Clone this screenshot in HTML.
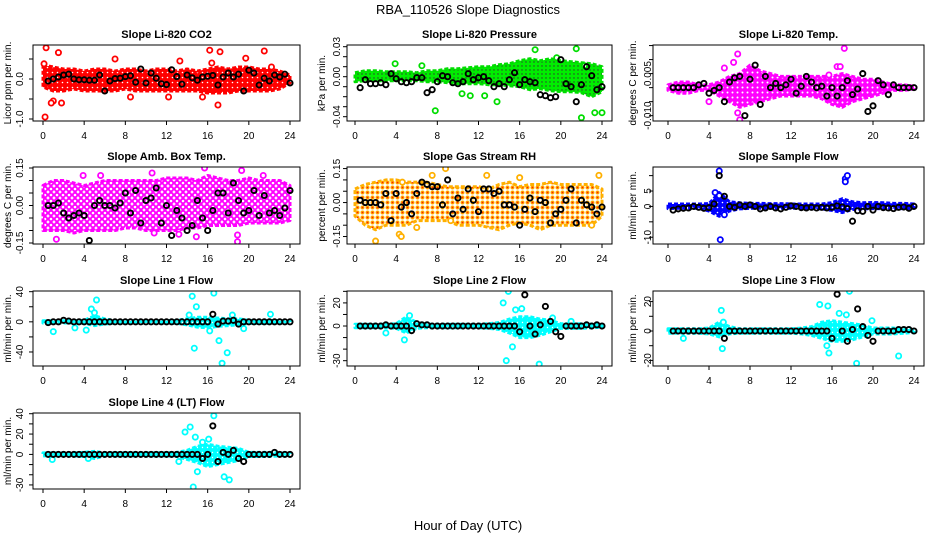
<!DOCTYPE html>
<html><head><meta charset="utf-8">
<style>
html,body{margin:0;padding:0;background:#fff;}
svg{display:block;font-family:"Liberation Sans",Arial,sans-serif;}
</style></head>
<body>
<svg id="chart" width="936" height="540" viewBox="0 0 936 540">
<defs>
<pattern id="pat-red" width="5" height="5" patternUnits="userSpaceOnUse"><rect width="5" height="5" fill="#ff0000"/><circle cx="2.5" cy="2.5" r="0.8" fill="#fff"/></pattern>
<pattern id="pat-green" width="4" height="4" patternUnits="userSpaceOnUse"><rect width="4" height="4" fill="#00ee00"/><circle cx="2" cy="2" r="0.7" fill="#333"/></pattern>
<pattern id="pat-magenta" width="5" height="5" patternUnits="userSpaceOnUse"><rect width="5" height="5" fill="#ff00ff"/><circle cx="2.5" cy="2.5" r="1" fill="#fff"/></pattern>
<pattern id="pat-magenta-sparse" width="6" height="6" patternUnits="userSpaceOnUse"><rect width="6" height="6" fill="#fff"/><circle cx="3" cy="3" r="2.2" fill="none" stroke="#ff00ff" stroke-width="1.8"/></pattern>
<pattern id="pat-orange" width="5" height="5" patternUnits="userSpaceOnUse"><rect width="5" height="5" fill="#fff"/><circle cx="2.5" cy="2.5" r="2" fill="#ffb000"/><circle cx="2.5" cy="2.5" r="0.9" fill="#ff2000"/></pattern>
<pattern id="pat-blue" width="5" height="5" patternUnits="userSpaceOnUse"><rect width="5" height="5" fill="#0000ff"/><circle cx="2.5" cy="2.5" r="0.8" fill="#fff"/></pattern>
<pattern id="pat-cyan" width="5" height="5" patternUnits="userSpaceOnUse"><rect width="5" height="5" fill="#00ffff"/><circle cx="2.5" cy="2.5" r="0.7" fill="#fff"/></pattern>
</defs>
<text x="468" y="14" text-anchor="middle" font-size="13">RBA_110526  Slope Diagnostics</text>
<text x="468" y="530" text-anchor="middle" font-size="13">Hour of Day (UTC)</text>
</svg>
<script>
// ---- data (hours 0..24 cloud envelope, outliers, half-hourly black points) ----
const xTicks = [0,4,8,12,16,20,24];
const xTickLabels = ["0","4","8","12","16","20","24"];

const co2Hi = [0.35,0.3,0.25,0.25,0.2,0.25,0.25,0.2,0.25,0.25,0.2,0.25,0.25,0.2,0.25,0.2,0.25,0.3,0.25,0.3,0.3,0.25,0.25,0.2,0.1];
const co2Lo = [-0.2,-0.3,-0.3,-0.25,-0.3,-0.3,-0.3,-0.3,-0.25,-0.3,-0.3,-0.3,-0.3,-0.3,-0.3,-0.3,-0.35,-0.35,-0.35,-0.3,-0.3,-0.3,-0.3,-0.25,-0.1];
const co2OutX = [0.2,0.3,1.5,0.1,1.0,0.8,1.8,7.0,8.5,12.2,13.3,15.5,16.2,17.0,17.2,19.7,21.5,22.2,16.4];
const co2OutY = [-0.95,0.78,0.66,0.38,-0.55,-0.6,-0.6,0.5,-0.45,-0.45,0.45,-0.45,0.72,-0.65,0.68,0.52,0.7,0.3,0.4];
const co2Black = [-0.05,0,0.05,0.1,0.12,0,-0.02,-0.02,-0.03,-0.03,0.1,-0.3,-0.05,0.01,0.02,0.06,0.08,-0.08,0.25,-0.1,0.15,0.02,-0.12,-0.14,0.23,0.06,-0.13,0.1,0.03,-0.03,0.05,0.07,0.09,-0.15,0.05,0.15,0.05,0.12,-0.3,0.22,0.15,-0.15,0.02,-0.05,0.1,0.05,0.12,-0.1];
const co2YTicks = [-1.0,-0.5,0.0,0.5];
const co2YLabels = ["-1.0","","0.0",""];

const presHi = [0.004,0.006,0.006,0.005,0.005,0.005,0.004,0.006,0.006,0.008,0.008,0.009,0.01,0.01,0.012,0.013,0.016,0.018,0.016,0.018,0.016,0.015,0.014,0.013,0.01];
const presLo = [-0.005,-0.004,-0.004,-0.004,-0.004,-0.004,-0.004,-0.005,-0.005,-0.006,-0.007,-0.007,-0.007,-0.008,-0.008,-0.009,-0.01,-0.013,-0.012,-0.014,-0.015,-0.015,-0.016,-0.02,-0.015];
const presOutX = [7.8,13.8,17.5,21.5,22.0,23.3,24,3.9,6.5,10.4,11.2,12.6,19.6,22.3];
const presOutY = [-0.034,-0.025,0.027,0.028,-0.041,-0.036,-0.036,0.013,0.011,-0.017,-0.019,-0.019,0.019,0.011];
const presBlack = [-0.011,-0.003,-0.007,-0.007,-0.006,-0.008,0.003,-0.002,-0.005,-0.006,-0.005,-0.001,-0.001,-0.016,-0.013,-0.005,0.001,0.0,-0.006,-0.007,-0.005,0.003,-0.003,-0.001,0.0,-0.004,-0.01,-0.007,-0.01,-0.003,0.004,-0.008,-0.003,-0.005,-0.006,-0.018,-0.019,-0.021,-0.02,0.017,-0.007,-0.01,-0.025,-0.008,0.01,0.001,-0.013,-0.01];
const presYTicks = [-0.04,-0.03,-0.02,-0.01,0.0,0.01,0.02,0.03];
const presYLabels = ["-0.04","","","","0.00","","","0.03"];

const ltHi = [0.001,0.002,0.002,0.001,0.001,0.002,0.004,0.005,0.008,0.006,0.005,0.004,0.004,0.004,0.004,0.004,0.004,0.005,0.004,0.003,0.003,0.002,0.001,0.001,0.0005];
const ltLo = [-0.001,-0.002,-0.002,-0.001,-0.001,-0.003,-0.005,-0.007,-0.006,-0.005,-0.004,-0.003,-0.003,-0.003,-0.003,-0.004,-0.006,-0.007,-0.005,-0.004,-0.003,-0.002,-0.001,-0.001,-0.0005];
const ltOutX = [6.8,6.4,5.5,7.0,6.8,17.2,16.5,16.8,15.7,4.0];
const ltOutY = [0.012,0.009,0.007,-0.0115,-0.009,0.014,0.0075,0.0075,0.0045,-0.005];
const ltBlack = [0,0,0,0,0,0.001,0.0015,-0.002,-0.001,0,-0.005,0.002,0.0035,0.004,-0.01,0.003,0.008,-0.006,0.004,0.0,0.0015,0,0.001,0.003,-0.002,0.0005,0.004,0.002,0,0.0005,-0.003,0,-0.003,0,0.0025,-0.0025,-0.0005,0.005,-0.0085,-0.0065,0.0025,0.001,-0.0025,0.001,0,0,0,0];
const ltYTicks = [-0.010,-0.005,0.0,0.005,0.010,0.015];
const ltYLabels = ["-0.010","","","0.005","",""];

const abHi = [0.08,0.1,0.1,0.09,0.08,0.09,0.1,0.1,0.1,0.1,0.1,0.1,0.11,0.11,0.11,0.1,0.12,0.11,0.1,0.1,0.11,0.1,0.1,0.1,0.08];
const abLo = [-0.1,-0.1,-0.1,-0.11,-0.1,-0.1,-0.1,-0.1,-0.09,-0.09,-0.1,-0.1,-0.1,-0.1,-0.09,-0.09,-0.08,-0.08,-0.08,-0.08,-0.07,-0.07,-0.07,-0.07,-0.06];
const abOutX = [1.3,3.9,5.6,10.6,15.7,19.3,21.4,18.9,18.9,14.9,10.8,13.2];
const abOutY = [-0.135,0.12,0.12,0.13,0.15,0.14,0.12,-0.145,-0.118,-0.125,-0.11,-0.115];
const abBlack = [0,0,0.01,-0.03,-0.05,-0.04,-0.03,-0.04,-0.14,0.0,0.02,0.0,0.0,-0.01,0.01,0.05,-0.03,0.06,-0.07,0.02,0.03,0.07,-0.07,0.0,-0.12,-0.02,-0.05,-0.1,-0.08,0.02,-0.05,-0.1,-0.02,0.05,0.05,-0.03,0.09,0.02,-0.03,-0.02,0.06,-0.04,0.04,-0.03,-0.02,-0.04,-0.01,0.06];
const abYTicks = [-0.15,-0.10,-0.05,0.0,0.05,0.10,0.15];
const abYLabels = ["-0.15","","","0.00","","","0.15"];

const rhHi = [0.06,0.08,0.09,0.1,0.1,0.09,0.09,0.09,0.08,0.07,0.07,0.07,0.07,0.06,0.08,0.09,0.07,0.08,0.08,0.09,0.08,0.08,0.08,0.08,0.06];
const rhLo = [-0.06,-0.1,-0.12,-0.1,-0.1,-0.1,-0.08,-0.08,-0.08,-0.08,-0.1,-0.1,-0.1,-0.11,-0.12,-0.1,-0.09,-0.1,-0.12,-0.1,-0.1,-0.1,-0.1,-0.1,-0.06];
const rhOutX = [2,4.3,4.5,6.0,7.5,8.8,9.3,12.8,16.0,23.7,23.0,4.6];
const rhOutY = [-0.17,-0.14,-0.15,-0.11,0.12,0.15,-0.08,0.12,0.11,0.12,-0.1,0.09];
const rhBlack = [0.01,0,0,0,-0.01,0.04,-0.08,0.04,-0.02,0.0,-0.05,0.04,0.09,0.08,0.07,0.07,-0.01,0.1,-0.05,0.02,-0.03,0.06,0.01,-0.04,0.06,0.06,0.04,0.05,-0.01,-0.01,-0.02,-0.1,-0.03,0.02,-0.04,0.01,0.0,-0.09,-0.05,-0.03,0.01,0.06,-0.09,0.01,-0.01,-0.02,-0.05,-0.02];
const rhYTicks = [-0.15,-0.10,-0.05,0.0,0.05,0.10,0.15];
const rhYLabels = ["-0.15","","","0.00","","","0.15"];

const sfHi = [0.8,0.8,0.8,0.8,0.9,4.5,1.5,1.2,1,1,0.9,0.9,0.8,0.8,0.8,0.8,1.2,2.5,1.5,1.2,1.3,1.2,1.0,1.0,0.8];
const sfLo = [-0.7,-0.6,-0.6,-0.6,-1.5,-3.2,-1.5,-0.8,-0.6,-0.6,-0.6,-0.6,-0.6,-0.6,-0.7,-0.8,-1.3,-2.0,-1.0,-0.8,-0.7,-0.7,-0.7,-0.7,-0.6];
const sfOutX = [5.0,5.1,17.3,17.5,17.3,4.6,5.0,5.5];
const sfOutY = [11.5,-10.8,9.0,10.0,8.0,4.5,3.5,-2.7];
const sfBlack = [-1.2,-0.8,-0.6,-0.5,0,-0.3,-0.6,-0.4,0.8,10.0,3.3,0.0,-0.3,0.5,0.0,0.5,0.0,-0.8,-0.5,0.0,-0.5,-0.8,-0.3,0.2,0.0,-0.4,-0.5,-0.3,-0.5,-0.3,-0.5,-0.3,0.2,-0.2,-0.7,-4.8,-1.4,-1.6,0.0,-1.2,0.0,-0.4,-0.5,-0.7,-0.3,-0.2,-0.6,0.0];
const sfYTicks = [-10,-5,0,5,10];
const sfYLabels = ["-10","","0","5",""];

const l1Hi = [1.5,1.5,1.5,1.5,2,8,4,1.5,1.5,1.5,1.5,1.5,1.5,2,4,6,6,5,4,4,2,2,2,1.5,1];
const l1Lo = [-1.5,-1.5,-1.5,-1.5,-2,-5,-3,-1.5,-1.5,-1.5,-1.5,-1.5,-1.5,-2,-4,-7,-8,-6,-5,-4,-2,-2,-2,-1.5,-1];
const l1OutX = [1.0,3.1,4.2,4.7,5.2,5.0,14.5,14.7,14.9,16.6,17.1,17.4,17.9,14.2,18.4,19.5,22.1,16.2];
const l1OutY = [-13,-8,-11,17,29,12,34,-35,20,38,-25,-55,-41,9,9,-9,10,-12];
const l1Black = [-1,0,0,2,1,0,0,0,0,0,0,0,0,0,0,0,0,0,0,0,0,0,0,0,0,0,0,0,0,0,0,0,10,-3,1,1,2,-3,0,0,0,0,0,0,0,0,0,0];
const l1YTicks = [-40,-20,0,20,40];
const l1YLabels = ["-40","","0","","40"];

const l2Hi = [1.5,1.5,1.5,1.5,2,8,3,1.5,1.5,1.5,1.5,1.5,1.5,2,3,6,8,8,6,5,2,2,2,1.5,1];
const l2Lo = [-1.5,-1.5,-1.5,-1.5,-2,-6,-2,-1.5,-1.5,-1.5,-1.5,-1.5,-1.5,-2,-3,-6,-10,-10,-8,-5,-2,-2,-2,-1.5,-1];
const l2OutX = [4.8,5.3,3.0,14.4,14.9,15.3,14.7,17.9,15.6,16.2,19.2,21.0];
const l2OutY = [-12,9,-6,20,30,-18,-30,-33,14,15,7,4];
const l2Black = [0,0,0,0,0,1,0,0,0,0,-4,2,1,1,0,0,0,0,0,0,0,0,0,0,0,0,0,0,0,0,0,-5,27,0,-7,1,17,4,-5,-9,0,0,0,0,1,0,1,0];
const l2YTicks = [-30,-20,-10,0,10,20,30];
const l2YLabels = ["-30","","","0","","20",""];

const l3Hi = [1.5,1.5,1.5,1.5,2,6,3,1.5,1.5,1.5,1.5,1.5,1.5,2,3,6,7,6,5,4,2,2,2,1.5,1];
const l3Lo = [-1.5,-1.5,-1.5,-1.5,-2,-4,-2,-1.5,-1.5,-1.5,-1.5,-1.5,-1.5,-2,-3,-5,-7,-7,-6,-4,-2,-2,-2,-1.5,-1];
const l3OutX = [1.5,5.2,5.3,5.4,14.8,15.6,15.5,15.7,17.7,17.4,16.7,18.4,19.9,22.5];
const l3OutY = [-5,14,-12,6,18,17,-10,-15,27,11,12,-22,7,-17];
const l3Black = [0,0,0,0,0,0,0,0,0,0,-5,0,0,0,0,0,0,0,0,0,0,0,0,0,0,0,0,0,0,0,0,-5,25,0,-7,1,15,3,-3,-7,0,0,0,0,1,1,1,0];
const l3YTicks = [-20,-10,0,10,20];
const l3YLabels = ["-20","","0","","20"];

const l4Hi = [1.5,1.5,1.5,1.5,2,3,1.5,1.5,1.5,1.5,1.5,1.5,1.5,2,4,8,10,8,7,6,2,2,2,1.5,1];
const l4Lo = [-1.5,-1.5,-1.5,-1.5,-2,-4,-1.5,-1.5,-1.5,-1.5,-1.5,-1.5,-1.5,-2,-5,-8,-12,-10,-8,-6,-2,-2,-2,-1.5,-1];
const l4OutX = [0.9,4.4,13.8,14.3,14.8,14.6,15.0,16.6,17.6,18.1,15.5,16.1,13.2];
const l4OutY = [-5,-4,22,27,17,-32,-17,38,-22,-25,12,15,-7];
const l4Black = [0,0,0,0,0,0,0,0,0,0,0,0,0,0,0,0,0,0,0,0,0,0,0,0,0,0,0,0,0,0,-4,0,28,-7,2,0,4,-4,-7,0,0,0,0,0,2,0,0,0];
const l4YTicks = [-30,-20,-10,0,10,20,30,40];
const l4YLabels = ["-30","","","0","","20","","40"];

// ---- layout ----
const NS = "http://www.w3.org/2000/svg";
const svg = document.getElementById("chart");
const cols = [{bl:33,br:300,x0:43,x1:290,ty:20,tl:8},{bl:347,br:612,x0:355,x1:602,ty:337,tl:322},{bl:653,br:924,x0:668,x1:914,ty:648,tl:633}];
const rows = [{t:45,b:121},{t:167,b:244},{t:291,b:366},{t:413,b:489}];

function mk(tag, attrs, parent){
  const e = document.createElementNS(NS, tag);
  for (const k in attrs) e.setAttribute(k, attrs[k]);
  (parent||svg).appendChild(e);
  return e;
}

function panel(slug, title, ytitle, col, row, ymin, ymax, pat, color, hi, lo, ox, oy, black, yt, yl){
  const C = cols[col], R = rows[row];
  const g = mk("g", {});
  
  
  const xs = h => C.x0 + (C.x1 - C.x0) * h / 24;
  const ys = v => R.b - (R.b - R.t) * (v - ymin) / (ymax - ymin);
  const clipId = "clip-" + slug;
  const cp = mk("clipPath", {id: clipId}, g);
  mk("rect", {x:C.bl, y:R.t, width:C.br-C.bl, height:R.b-R.t}, cp);
  const inner = mk("g", {"clip-path": "url(#" + clipId + ")"}, g);
  let pts = [];
  for (let i = 0; i < hi.length; i++) pts.push(xs(i) + "," + ys(hi[i]));
  for (let i = lo.length - 1; i >= 0; i--) pts.push(xs(i) + "," + ys(lo[i]));
  const band = mk("polygon", {points: pts.join(" "), fill: "url(#" + pat + ")", stroke: color, "stroke-width": 3, "stroke-linejoin": "round", "stroke-dasharray": "4 2"}, inner);
  
  
  for (let i = 0; i < ox.length; i++) {
    const c = mk("circle", {cx: xs(ox[i]), cy: ys(oy[i]), r: 2.6, fill: "#fff", stroke: color, "stroke-width": 1.8}, inner);
    
    
  }
  for (let i = 0; i < black.length; i++) {
    const c = mk("circle", {cx: xs(0.5 + i * 0.5), cy: ys(black[i]), r: 2.6, fill: "none", stroke: "#000", "stroke-width": 1.9}, inner);
    
    
  }
  const fr = mk("rect", {x:C.bl, y:R.t, width:C.br-C.bl, height:R.b-R.t, fill:"none", stroke:"#000", "stroke-width":1}, g);
  
  
  const t = mk("text", {x:(C.bl+C.br)/2, y:R.t-7, "text-anchor":"middle", "font-size":11, "font-weight":"bold"}, g);
  t.textContent = title;
  
  
  for (let i = 0; i < xTicks.length; i++) {
    const x = xs(xTicks[i]);
    mk("line", {x1:x, x2:x, y1:R.b, y2:R.b+4, stroke:"#000"}, g);
    const tl = mk("text", {x:x, y:R.b+18, "text-anchor":"middle", "font-size":10}, g);
    tl.textContent = xTickLabels[i];
    
    
  }
  for (let i = 0; i < yt.length; i++) {
    const y = ys(yt[i]);
    mk("line", {x1:C.bl-4, x2:C.bl, y1:y, y2:y, stroke:"#000"}, g);
    if (yl[i]) {
      const tl = mk("text", {x:0, y:0, "text-anchor":"middle", "font-size":10, transform:"translate(" + (C.ty+3) + "," + y + ") rotate(-90)"}, g);
      tl.textContent = yl[i];
      
      
    }
  }
  const yt2 = mk("text", {x:0, y:0, "text-anchor":"middle", "font-size":10, transform:"translate(" + (C.tl+3) + "," + ((R.t+R.b)/2) + ") rotate(-90)"}, g);
  yt2.textContent = ytitle;
  
  
}

panel("co2","Slope Li-820 CO2","Licor ppm per min.",0,0,-1.05,0.85,"pat-red","#ff0000",co2Hi,co2Lo,co2OutX,co2OutY,co2Black,co2YTicks,co2YLabels);
panel("pressure","Slope Li-820 Pressure","kPa per min.",1,0,-0.0443,0.0317,"pat-green","#00dd00",presHi,presLo,presOutX,presOutY,presBlack,presYTicks,presYLabels);
panel("li820-temp","Slope Li-820 Temp.","degrees C per min.",2,0,-0.0119,0.0152,"pat-magenta","#ff00ff",ltHi,ltLo,ltOutX,ltOutY,ltBlack,ltYTicks,ltYLabels);
panel("amb-box-temp","Slope Amb. Box Temp.","degrees C per min.",0,1,-0.154,0.154,"pat-magenta-sparse","#ff00ff",abHi,abLo,abOutX,abOutY,abBlack,abYTicks,abYLabels);
panel("gas-stream-rh","Slope Gas Stream RH","percent per min.",1,1,-0.183,0.157,"pat-orange","#ffb000",rhHi,rhLo,rhOutX,rhOutY,rhBlack,rhYTicks,rhYLabels);
panel("sample-flow","Slope Sample Flow","ml/min per min.",2,1,-12.2,12.8,"pat-blue","#0000ff",sfHi,sfLo,sfOutX,sfOutY,sfBlack,sfYTicks,sfYLabels);
panel("line1-flow","Slope Line 1 Flow","ml/min per min.",0,2,-58.6,40.9,"pat-cyan","#00ffff",l1Hi,l1Lo,l1OutX,l1OutY,l1Black,l1YTicks,l1YLabels);
panel("line2-flow","Slope Line 2 Flow","ml/min per min.",1,2,-34.6,30.3,"pat-cyan","#00ffff",l2Hi,l2Lo,l2OutX,l2OutY,l2Black,l2YTicks,l2YLabels);
panel("line3-flow","Slope Line 3 Flow","ml/min per min.",2,2,-23.8,27.2,"pat-cyan","#00ffff",l3Hi,l3Lo,l3OutX,l3OutY,l3Black,l3YTicks,l3YLabels);
panel("line4-flow","Slope Line 4 (LT) Flow","ml/min per min.",0,3,-34,40.7,"pat-cyan","#00ffff",l4Hi,l4Lo,l4OutX,l4OutY,l4Black,l4YTicks,l4YLabels);
</script>
</body></html>
